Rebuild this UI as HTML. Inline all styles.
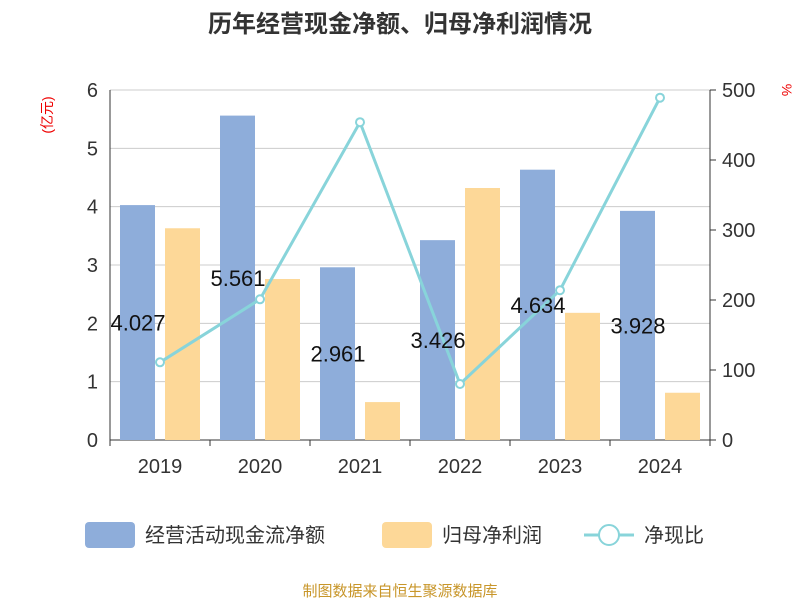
<!DOCTYPE html>
<html><head><meta charset="utf-8"><style>
body{margin:0;background:#fff;font-family:"Liberation Sans","Noto Sans CJK SC",sans-serif}
</style></head><body>
<svg width="800" height="600" xmlns="http://www.w3.org/2000/svg" font-family="Liberation Sans, Noto Sans CJK SC, sans-serif">
<text x="400" y="32" text-anchor="middle" font-size="24" font-weight="bold" fill="#333">历年经营现金净额、归母净利润情况</text>
<text transform="translate(52,115) rotate(-90)" text-anchor="middle" font-size="14" fill="#e00">(亿元)</text>
<text transform="translate(782,90) rotate(90)" text-anchor="middle" font-size="14" fill="#e00">%</text>
<g id="grid"></g><g id="bars"></g><g id="line"></g><g id="labels"></g><g id="axes"></g>
<g>
<rect x="85" y="522" width="50" height="26" rx="4" fill="#8eadda"/>
<text x="145" y="542" font-size="20" fill="#333">经营活动现金流净额</text>
<rect x="382" y="522" width="50" height="26" rx="4" fill="#fdd898"/>
<text x="442" y="542" font-size="20" fill="#333">归母净利润</text>
<line x1="584" y1="535" x2="634" y2="535" stroke="#88d4da" stroke-width="3"/>
<circle cx="609" cy="535" r="10" fill="#fff" stroke="#88d4da" stroke-width="2"/>
<text x="644" y="542" font-size="20" fill="#333">净现比</text>
</g>
<text x="400" y="596" text-anchor="middle" font-size="15" fill="#c8962a">制图数据来自恒生聚源数据库</text>
</svg>
<script>
const categories=["2019","2020","2021","2022","2023","2024"];
const cashFlow=[4.027,5.561,2.961,3.426,4.634,3.928];
const netProfit=[3.63,2.76,0.65,4.32,2.18,0.81];
const ratio=[111,201,454,80,214,489];
const leftTicks=[0,1,2,3,4,5,6];
const rightTicks=[0,100,200,300,400,500];
const NS="http://www.w3.org/2000/svg";
const X0=110,X1=710,Y0=440,Y1=90;
const band=(X1-X0)/categories.length;
const yL=v=>Y0-(v/6)*(Y0-Y1);
const yR=v=>Y0-(v/500)*(Y0-Y1);
const xC=i=>X0+band*(i+0.5);
function mk(tag,attrs,parent){const e=document.createElementNS(NS,tag);for(const k in attrs)e.setAttribute(k,attrs[k]);document.getElementById(parent).appendChild(e);return e;}
leftTicks.forEach(t=>{
 const l=mk('line',{x1:X0,x2:X1,y1:yL(t),y2:yL(t),stroke:t===0?'#333':'#ccc','stroke-width':1},'grid');
 
 
 const tx=mk('text',{x:X0-12,y:yL(t)+7,'text-anchor':'end','font-size':20,fill:'#333'},'axes');
 tx.textContent=t;
 
 
});
rightTicks.forEach(t=>{
 const tx=mk('text',{x:X1+12,y:yR(t)+7,'font-size':20,fill:'#333'},'axes');
 tx.textContent=t;
 
 
 const tk=mk('line',{x1:X1,x2:X1+6,y1:yR(t),y2:yR(t),stroke:'#333'},'axes');
 
 
});
const la=mk('line',{x1:X0,x2:X0,y1:Y1,y2:Y0,stroke:'#333'},'axes');


const ra=mk('line',{x1:X1,x2:X1,y1:Y1,y2:Y0,stroke:'#333'},'axes');


for(let i=0;i<=categories.length;i++){
 const tk=mk('line',{x1:X0+band*i,x2:X0+band*i,y1:Y0,y2:Y0+6,stroke:'#333'},'axes');
 
 
}
categories.forEach((c,i)=>{
 const tx=mk('text',{x:xC(i),y:Y0+33,'text-anchor':'middle','font-size':20,fill:'#333'},'axes');
 tx.textContent=c;
 
 
 const b=mk('rect',{x:xC(i)-40,y:yL(cashFlow[i]),width:35,height:Y0-yL(cashFlow[i]),fill:'#8eadda'},'bars');
 
 
 const o=mk('rect',{x:xC(i)+5,y:yL(netProfit[i]),width:35,height:Y0-yL(netProfit[i]),fill:'#fdd898'},'bars');
 
 
 const lb=mk('text',{x:xC(i)-22,y:(yL(cashFlow[i])+Y0)/2+8,'text-anchor':'middle','font-size':22,fill:'#111'},'labels');
 lb.textContent=cashFlow[i].toFixed(3);
 
 
});
const pl=mk('polyline',{points:ratio.map((v,i)=>xC(i)+','+yR(v)).join(' '),fill:'none',stroke:'#88d4da','stroke-width':3},'line');


ratio.forEach((v,i)=>{
 const c=mk('circle',{cx:xC(i),cy:yR(v),r:4,fill:'#fff',stroke:'#88d4da','stroke-width':2},'line');
 
 
});
</script>
</body></html>
